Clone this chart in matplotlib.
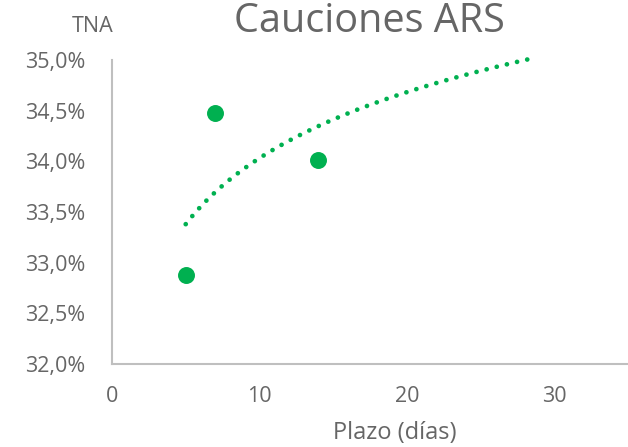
import numpy as np
from matplotlib import pyplot as plt
import matplotlib.ticker as mticker

# puntos observados (plazo en dias, TNA en %)
plazo = [5, 7, 14]
tna = [32.88, 34.48, 34.01]

# linea de tendencia logaritmica: y = a + b*ln(x)
trend_a = 31.867
trend_b = 0.940
trend_desde = 5
trend_hasta = 28.2

green = "#00b050"
gray = "#666666"

plt.rcParams['font.family'] = ['Open Sans', 'DejaVu Sans']

fig = plt.figure(figsize=(6.28, 4.47), dpi=100)
ax = fig.add_axes([112/628, 83/447, 516/628, 304/447])

xt = np.linspace(trend_desde, trend_hasta, 200)
yt = trend_a + trend_b*np.log(xt)
ax.plot(xt, yt, color=green, lw=3.4, linestyle=(0, (0.01, 2.2)),
        dash_capstyle='round', clip_on=False)

ax.scatter(plazo, tna, s=125, color=green, zorder=3, clip_on=False)

ax.set_xlim(0, 35)
ax.set_ylim(32, 35)
ax.set_xticks([0, 10, 20, 30])
ax.set_yticks([32, 32.5, 33, 33.5, 34, 34.5, 35])
ax.yaxis.set_major_formatter(mticker.FuncFormatter(lambda v, p: ("%.1f%%" % v).replace('.', ',')))

for s in ['top', 'right']:
    ax.spines[s].set_visible(False)
for s in ['left', 'bottom']:
    ax.spines[s].set_color('#bfbfbf')
    ax.spines[s].set_linewidth(1.5)

ax.tick_params(axis='both', length=0, labelsize=15.5, colors=gray)
ax.tick_params(axis='y', pad=19)
ax.tick_params(axis='x', pad=16)

fig.text(369/628, 1 - 22/447, "Cauciones ARS", fontsize=28.5, color=gray,
         ha='center', va='center')
fig.text(93/628, 1 - 26/447, "TNA", fontsize=15.5, color=gray, ha='center', va='center')
fig.text(395/628, 1 - 433/447, "Plazo (días)", fontsize=17, color=gray,
         ha='center', va='center')

plt.savefig("out.png", dpi=100)
plt.close()
